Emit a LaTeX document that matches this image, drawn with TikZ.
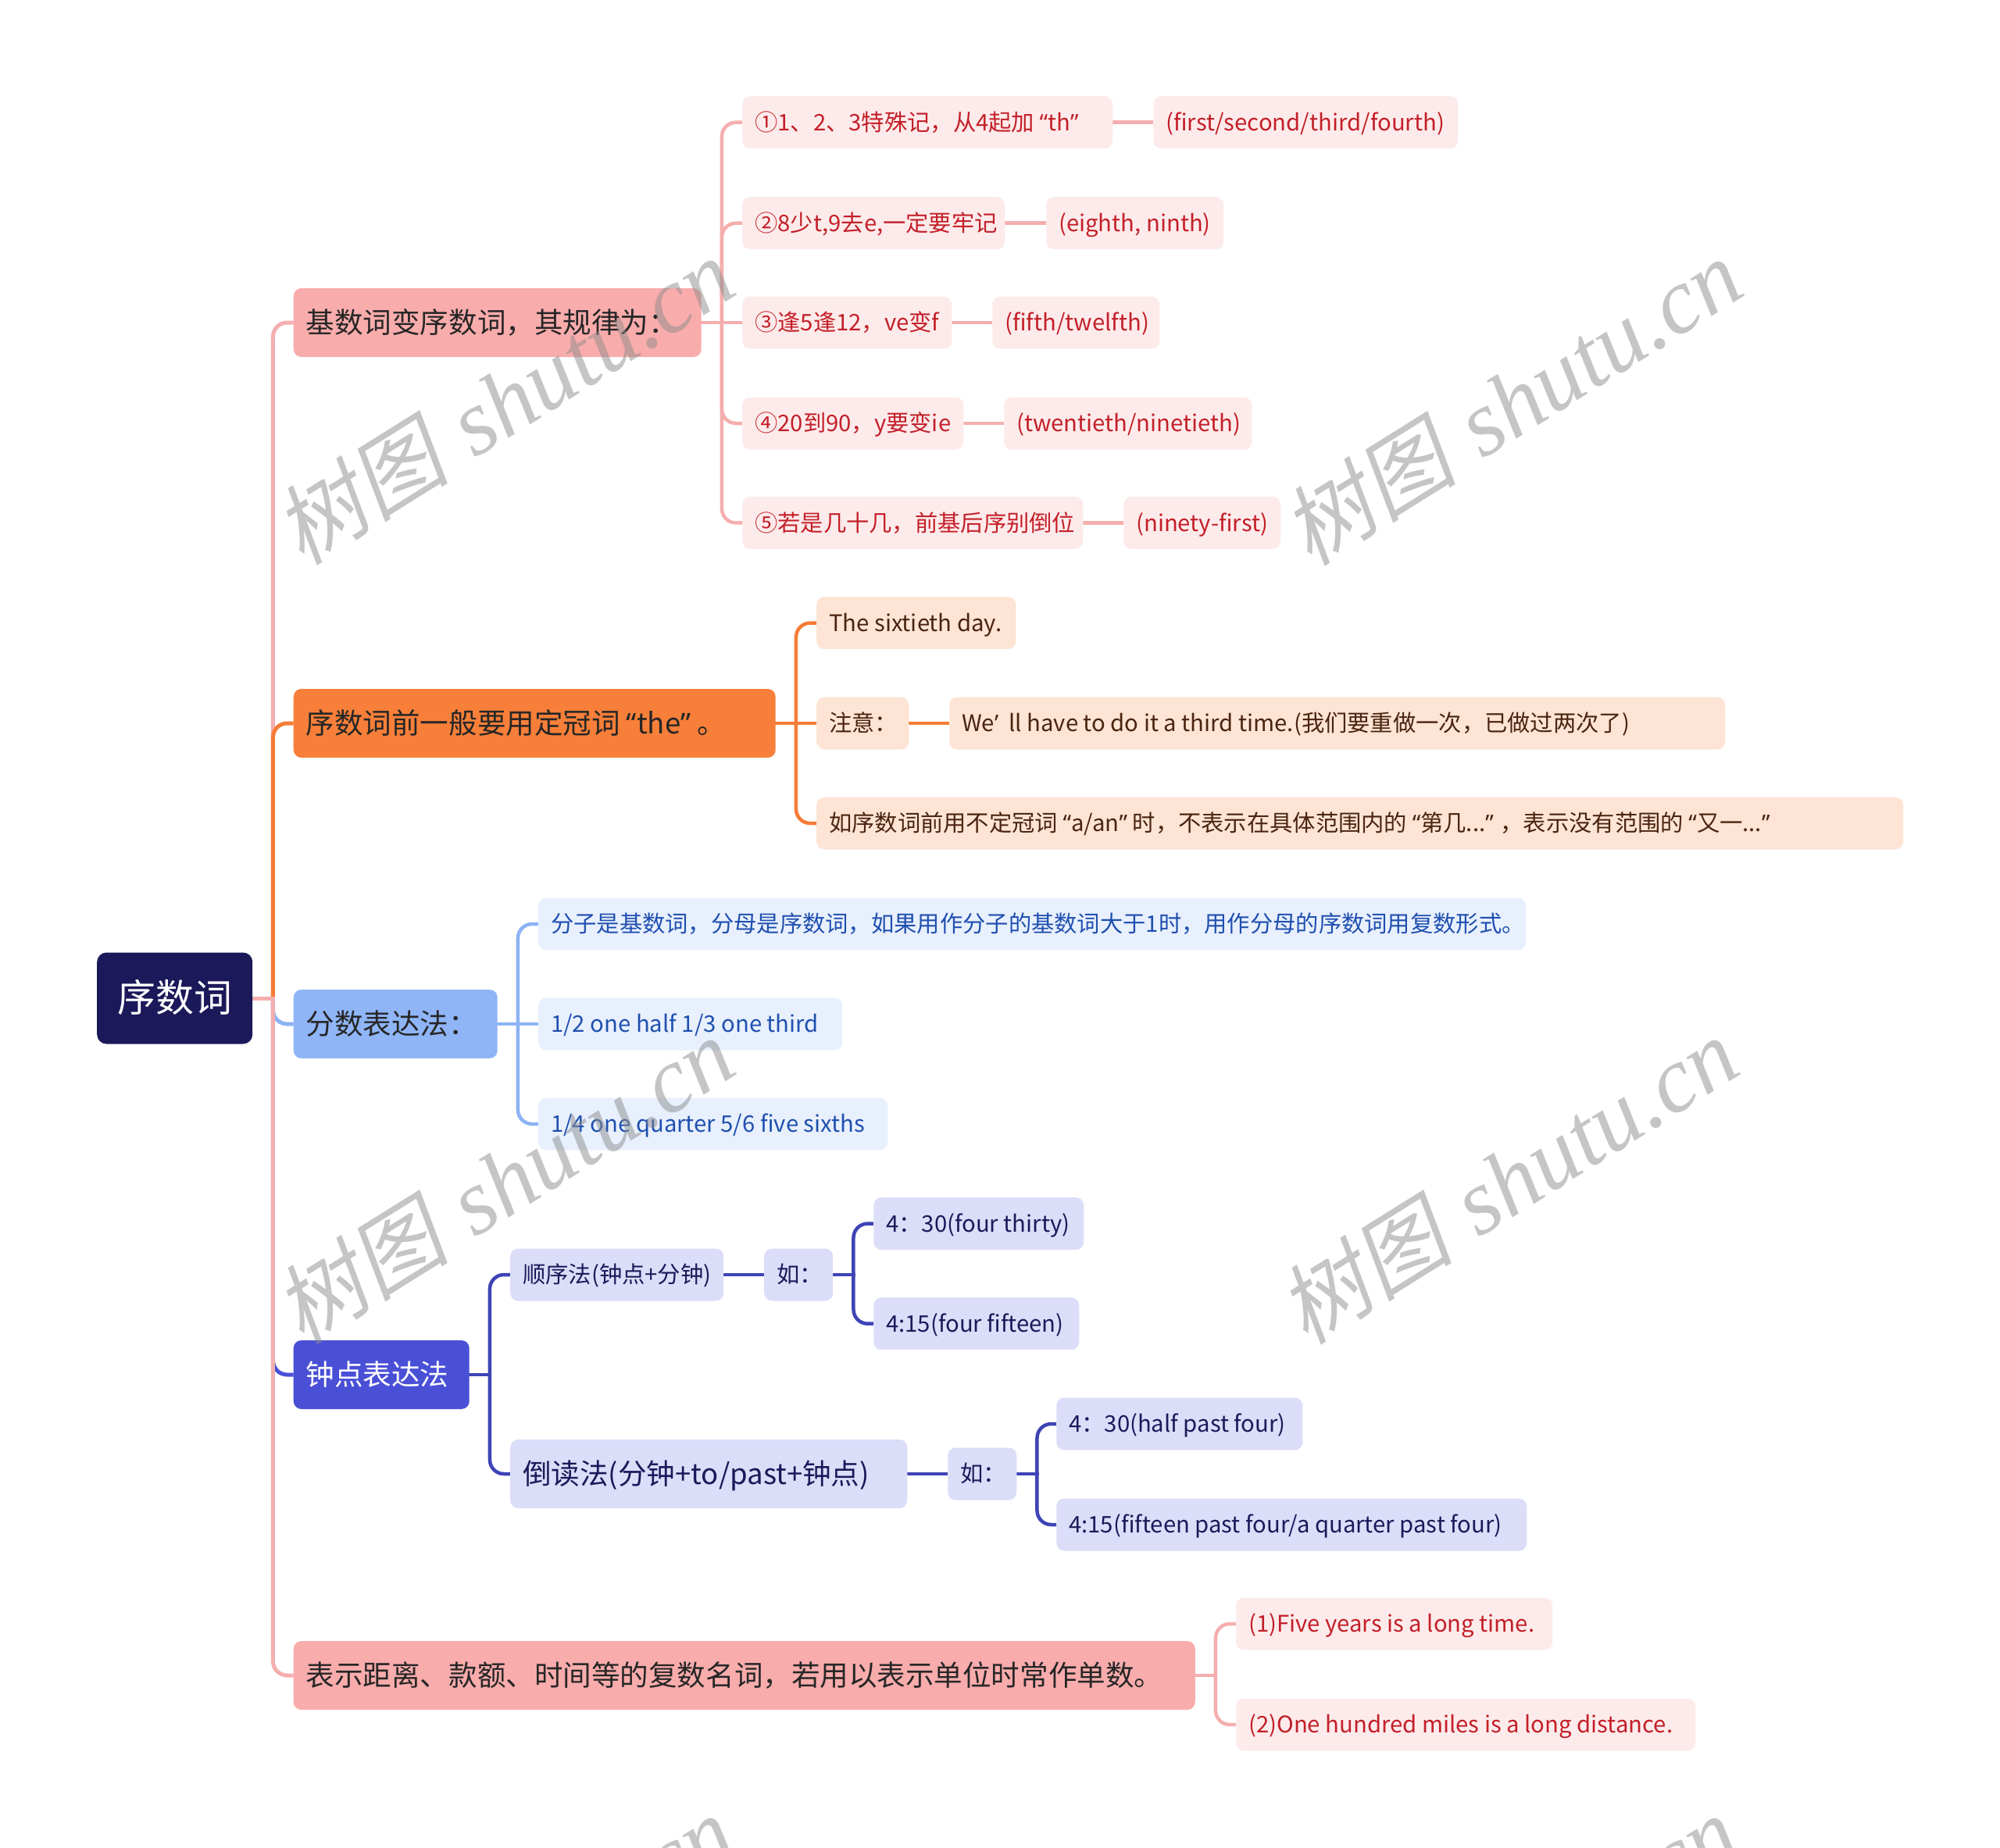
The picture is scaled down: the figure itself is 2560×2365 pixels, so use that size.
\documentclass[tikz,border=0pt]{standalone}
\usepackage{fontspec}
\setmainfont{Noto Sans CJK SC}
\newfontfamily\latinq{Noto Sans}
\newfontfamily\wmlatin{Liberation Serif}
\newfontfamily\wmcjk{Noto Sans CJK SC}[FakeSlant=0.2]
\usetikzlibrary{backgrounds}
\newlength\pxu
\setlength\pxu{0.3mm}
\newcommand\myoq{{\latinq “}}
\newcommand\mycq{{\latinq ”}}
\newcommand\myap{{\latinq ’}}
\newcommand\fontroot{\fontsize{41.7pt}{50pt}\selectfont}
\newcommand\fontone{\fontsize{31.2pt}{37pt}\selectfont}
\newcommand\fonttwo{\fontsize{25pt}{30pt}\selectfont}
\newcommand\mystrut{\rule[-0.25em]{0pt}{1.23em}}
\newcommand\tb[2]{\makebox[\dimexpr#1\pxu-32\pxu\relax][l]{\mystrut#2}}
\definecolor{rootc}{HTML}{1C195A}
\definecolor{pinkfill}{HTML}{F9ACAC}
\definecolor{orfill}{HTML}{F77F39}
\definecolor{blfill}{HTML}{8FB5F7}
\definecolor{infill}{HTML}{4A50D6}
\definecolor{onetext}{HTML}{262626}
\definecolor{pinkline}{HTML}{F5AEAE}
\definecolor{orline}{HTML}{F47C36}
\definecolor{blline}{HTML}{8DB3F5}
\definecolor{inline}{HTML}{3E44B6}
\definecolor{ptwofill}{HTML}{FDEBEB}
\definecolor{ptwotext}{HTML}{C31F29}
\definecolor{otwofill}{HTML}{FDE4D4}
\definecolor{otwotext}{HTML}{4A2410}
\definecolor{btwofill}{HTML}{E8F0FD}
\definecolor{btwotext}{HTML}{1F4FAF}
\definecolor{itwofill}{HTML}{DCDDF8}
\definecolor{itwotext}{HTML}{1C195A}
\tikzset{
  nd/.style={anchor=west, inner xsep=16\pxu, inner ysep=0pt, rounded corners=3mm},
  hone/.style={nd, minimum height=88\pxu, font=\fontone},
  htwo/.style={nd, minimum height=67\pxu, font=\fonttwo},
  rootbox/.style={anchor=west, inner sep=0pt, rounded corners=3.6mm, minimum width=199\pxu,
    minimum height=117\pxu, fill=rootc, text=white, font=\fontroot, execute at begin node=\mystrut},
  onepink/.style={hone, fill=pinkfill, text=onetext},
  oneor/.style={hone, fill=orfill, text=onetext},
  onebl/.style={hone, fill=blfill, text=onetext},
  onein/.style={hone, fill=infill, text=white},
  twopink/.style={htwo, fill=ptwofill, text=ptwotext},
  twoor/.style={htwo, fill=otwofill, text=otwotext},
  twobl/.style={htwo, fill=btwofill, text=btwotext},
  twoin/.style={htwo, fill=itwofill, text=itwotext},
  bigin/.style={hone, fill=itwofill, text=itwotext},
  mainpink/.style={draw=pinkline, line width=5\pxu},
  mainor/.style={draw=orline, line width=5\pxu},
  mainbl/.style={draw=blline, line width=5\pxu},
  mainin/.style={draw=infill, line width=5\pxu},
  subpink/.style={draw=pinkline, line width=4.5\pxu},
  subor/.style={draw=orline, line width=4.5\pxu},
  subbl/.style={draw=blline, line width=4.5\pxu},
  subin/.style={draw=inline, line width=4.5\pxu},
  wm/.style={rotate=32, inner sep=0pt, text=black!45, text opacity=0.5}
}
\newcommand\brl[3]{%
  \draw[#1, line cap=rect] (#2.east) -- ++(26,0) coordinate (#2-t);
  \draw[#1, rounded corners=5.4mm] (#2-t) |- (#3.west);}
\newcommand\strl[3]{\draw[#1] (#2.east) -- (#3.west);}
\begin{document}
\begin{tikzpicture}[x=0.3mm, y=-0.3mm]
\useasboundingbox (0,0) rectangle (2560,2365);
% root
\node[rootbox] (root) at (124,1278) {序数词};
% level 1
\node[onepink] (b1) at (375.5,413) {\tb{522}{基数词变序数词，其规律为：}};
\node[oneor] (b2) at (375.5,926) {\tb{617}{序数词前一般要用定冠词 \myoq{}the\mycq{} 。}};
\node[onebl] (b3) at (375.5,1311) {\tb{261}{分数表达法：}};
\node[onein] (b4) at (375.5,1760) {\tb{225}{钟点表达法}};
\node[onepink] (b5) at (375.5,2145) {\tb{1154}{表示距离、款额、时间等的复数名词，若用以表示单位时常作单数。}};
% branch 1
\node[twopink] (c11) at (950,156.7) {\tb{474}{①1、2、3特殊记，从4起加 \myoq{}th\mycq{}}};
\node[twopink] (g11) at (1476,156.7) {\tb{390}{(first/second/third/fourth)}};
\node[twopink] (c12) at (950,285.7) {\tb{336}{②8少t,9去e,一定要牢记}};
\node[twopink] (g12) at (1339,285.7) {\tb{227}{(eighth, ninth)}};
\node[twopink] (c13) at (950,413) {\tb{268}{③逢5逢12，ve变f}};
\node[twopink] (g13) at (1270,413) {\tb{214}{(fifth/twelfth)}};
\node[twopink] (c14) at (950,542) {\tb{283}{④20到90，y要变ie}};
\node[twopink] (g14) at (1285,542) {\tb{317}{(twentieth/ninetieth)}};
\node[twopink] (c15) at (950,669.4) {\tb{436}{⑤若是几十几，前基后序别倒位}};
\node[twopink] (g15) at (1438,669.4) {\tb{201}{(ninety-first)}};
% branch 2
\node[twoor] (c21) at (1045,797.6) {\tb{255}{The sixtieth day.}};
\node[twoor] (c22) at (1045,926) {\tb{118}{注意：}};
\node[twoor] (g22) at (1215,926) {\tb{993}{We\myap{}\ \ ll have to do it a third time.(我们要重做一次，已做过两次了)}};
\node[twoor] (c23) at (1045,1054) {\tb{1391}{如序数词前用不定冠词 \myoq{}a/an\mycq{} 时，不表示在具体范围内的 \myoq{}第几...\mycq{} ，表示没有范围的 \myoq{}又一...\mycq{}}};
% branch 3
\node[twobl] (c31) at (689,1183) {\tb{1264}{分子是基数词，分母是序数词，如果用作分子的基数词大于1时，用作分母的序数词用复数形式。}};
\node[twobl] (c32) at (689,1311) {\tb{389}{1/2 one half 1/3 one third}};
\node[twobl] (c33) at (689,1439) {\tb{447}{1/4 one quarter 5/6 five sixths}};
% branch 4
\node[twoin] (c41) at (653,1632) {\tb{273}{顺序法(钟点+分钟)}};
\node[twoin] (c41r) at (978,1632) {\tb{88}{如：}};
\node[twoin] (g411) at (1118,1566.6) {\tb{269}{4：30(four thirty)}};
\node[twoin] (g412) at (1118,1694.7) {\tb{263}{4:15(four fifteen)}};
\node[bigin] (c42) at (653,1887) {\tb{508}{倒读法(分钟+to/past+钟点)}};
\node[twoin] (c42r) at (1213,1887) {\tb{88}{如：}};
\node[twoin] (g421) at (1352,1823) {\tb{315}{4：30(half past four)}};
\node[twoin] (g422) at (1352,1952) {\tb{602}{4:15(fifteen past four/a quarter past four)}};
% branch 5
\node[twopink] (c51) at (1582,2079) {\tb{405}{(1)Five years is a long time.}};
\node[twopink] (c52) at (1582,2208) {\tb{588}{(2)One hundred miles is a long distance.}};
\begin{pgfonlayer}{background}
\fill[white] (0,0) rectangle (2560,2365);
% root branches
\brl{mainpink}{root}{b1}
\brl{mainor}{root}{b2}
\brl{mainbl}{root}{b3}
\brl{mainin}{root}{b4}
\brl{mainpink}{root}{b5}
% branch 1
\brl{subpink}{b1}{c11}
\brl{subpink}{b1}{c12}
\strl{subpink}{b1}{c13}
\brl{subpink}{b1}{c14}
\brl{subpink}{b1}{c15}
\strl{subpink}{c11}{g11}
\strl{subpink}{c12}{g12}
\strl{subpink}{c13}{g13}
\strl{subpink}{c14}{g14}
\strl{subpink}{c15}{g15}
% branch 2
\brl{subor}{b2}{c21}
\strl{subor}{b2}{c22}
\brl{subor}{b2}{c23}
\strl{subor}{c22}{g22}
% branch 3
\brl{subbl}{b3}{c31}
\strl{subbl}{b3}{c32}
\brl{subbl}{b3}{c33}
% branch 4
\brl{subin}{b4}{c41}
\brl{subin}{b4}{c42}
\strl{subin}{c41}{c41r}
\brl{subin}{c41r}{g411}
\brl{subin}{c41r}{g412}
\strl{subin}{c42}{c42r}
\brl{subin}{c42r}{g421}
\brl{subin}{c42r}{g422}
% branch 5
\brl{subpink}{b5}{c51}
\brl{subpink}{b5}{c52}
\end{pgfonlayer}
% watermarks
\begin{scope}
\clip (0,0) rectangle (2560,2365);
\foreach \wx/\wy [count=\i] in {645/514, 1935/515, 645/1512, 1930/1512, 645/2508, 1930/2508}{
  \node[wm] (wm\i) at (\wx,\wy) {{\wmcjk\fontsize{96pt}{100pt}\selectfont 树图}\hspace{30pt}{\wmlatin\itshape\fontsize{102pt}{110pt}\selectfont shutu.cn}};
}
\end{scope}
\end{tikzpicture}
\end{document}
